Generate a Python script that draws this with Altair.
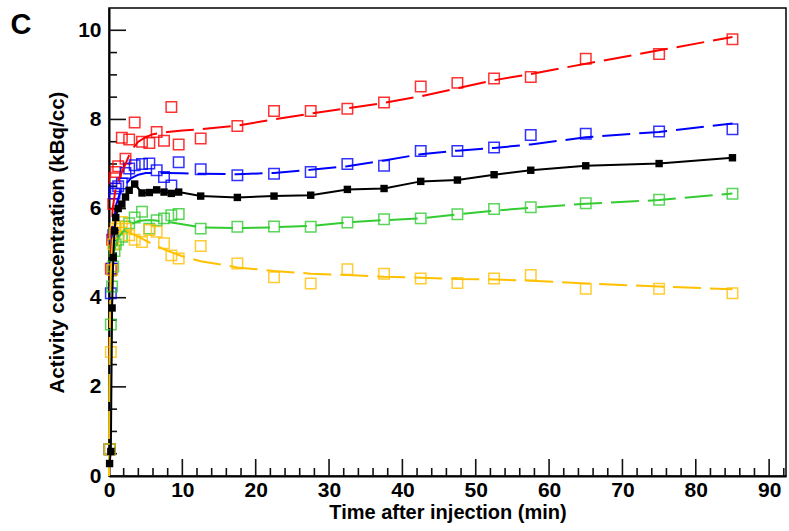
import altair as alt
import pandas as pd

# ---------------- data ----------------
times = [0.08, 0.25, 0.42, 0.58, 0.75, 0.92, 1.25, 1.75, 2.25, 2.75, 3.5, 4.5,
         5.5, 6.5, 7.5, 8.5, 9.5, 12.5, 17.5, 22.5, 27.5, 32.5, 37.5, 42.5,
         47.5, 52.5, 57.5, 65, 75, 85]

red = [0.6, 4.65, 5.3, 6.1, 6.68, 6.82, 6.95, 7.59, 7.12, 7.55, 7.93, 7.5,
       7.47, 7.72, 7.52, 8.28, 7.44, 7.57, 7.85, 8.19, 8.19, 8.24, 8.38, 8.74,
       8.82, 8.92, 8.95, 9.36, 9.47, 9.80]
blue = [0.6, 4.1, 4.65, 5.4, 6.34, 6.45, 6.5, 6.56, 6.8, 6.9, 6.97, 7.0,
        7.01, 6.86, 6.71, 6.52, 7.04, 6.88, 6.75, 6.78, 6.82, 7.00, 6.96, 7.29,
        7.29, 7.37, 7.65, 7.68, 7.73, 7.78]
black = [0.28, 0.55, 3.77, 4.9, 5.5, 5.8, 6.0, 6.1, 6.26, 6.41, 6.55, 6.35,
         6.36, 6.42, 6.37, 6.34, 6.37, 6.28, 6.25, 6.28, 6.30, 6.43, 6.45, 6.61,
         6.64, 6.76, 6.86, 6.96, 7.01, 7.14]
green = [0.6, 3.4, 4.25, 4.7, 5.05, 5.2, 5.3, 5.37, 5.6, 5.67, 5.8, 5.93,
         5.55, 5.74, 5.78, 5.85, 5.88, 5.55, 5.59, 5.60, 5.59, 5.69, 5.76, 5.78,
         5.87, 5.99, 6.03, 6.12, 6.20, 6.33]
yellow = [0.6, 2.78, 4.62, 5.2, 5.45, 5.55, 5.6, 5.7, 5.55, 5.4, 5.3, 5.25,
          5.52, 5.48, 5.22, 4.95, 4.88, 5.16, 4.77, 4.46, 4.32, 4.64, 4.54, 4.43,
          4.33, 4.43, 4.51, 4.20, 4.20, 4.10]

fit_times = [0, 0.1, 0.25, 0.5, 1, 1.5, 2, 3, 4, 5, 6, 8, 10, 12.5, 17.5, 22.5,
             27.5, 32.5, 37.5, 42.5, 47.5, 52.5, 57.5, 65, 75, 85]
red_fit = [0, 3.0, 5.0, 6.0, 6.55, 6.72, 6.9, 7.3, 7.5, 7.6, 7.67, 7.72, 7.75,
           7.78, 7.86, 8.0, 8.13, 8.25, 8.37, 8.52, 8.7, 8.88, 9.02, 9.25, 9.55, 9.85]
blue_fit = [0, 2.8, 4.5, 5.5, 6.1, 6.35, 6.5, 6.68, 6.76, 6.8, 6.8, 6.8, 6.79,
            6.78, 6.77, 6.8, 6.87, 6.95, 7.08, 7.22, 7.3, 7.36, 7.44, 7.6, 7.72, 7.91]
green_fit = [0, 2.5, 4.2, 4.9, 5.25, 5.4, 5.5, 5.65, 5.72, 5.74, 5.74, 5.7, 5.65,
             5.58, 5.56, 5.58, 5.61, 5.69, 5.74, 5.78, 5.87, 5.95, 6.02, 6.11, 6.19, 6.34]
yellow_fit = [0, 3.0, 4.6, 5.3, 5.55, 5.6, 5.55, 5.45, 5.37, 5.28, 5.2, 5.05, 4.93,
              4.82, 4.68, 4.6, 4.54, 4.51, 4.47, 4.45, 4.42, 4.41, 4.38, 4.32, 4.25, 4.19]

series_names = ["red", "blue", "green", "yellow"]
series_colors = ["#FF0000", "#0000FF", "#33CC33", "#FFC000"]

x_major = [0, 10, 20, 30, 40, 50, 60, 70, 80, 90]
x_minor = [v for v in range(2, 93, 2) if v % 10 != 0]
y_major = [0, 2, 4, 6, 8, 10]
y_minor = [v / 2 for v in range(1, 21) if v % 4 != 0]

# ---------------- tables ----------------
pts = pd.DataFrame(
    [(t, v, n) for n, vals in zip(series_names, [red, blue, green, yellow])
     for t, v in zip(times, vals)],
    columns=["t", "v", "s"])
fits = pd.DataFrame(
    [(t, v, n) for n, vals in zip(series_names, [red_fit, blue_fit, green_fit, yellow_fit])
     for t, v in zip(fit_times, vals)],
    columns=["t", "v", "s"])
blk = pd.DataFrame({"t": times, "v": black})

W, H = 677, 468
FONT = "Liberation Sans"

xs = alt.Scale(domain=[0, 92.3], nice=False, zero=False)
ys = alt.Scale(domain=[0, 10.5], nice=False)
cs = alt.Scale(domain=series_names, range=series_colors)

X = alt.X("t:Q", scale=xs, axis=alt.Axis(
    title="Time after injection (min)", values=x_major, format="d",
    ticks=False, grid=False, labelFlush=False, labelPadding=3,
    domainColor="black", domainWidth=2, titlePadding=2, titleFontSize=20))
Y = alt.Y("v:Q", scale=ys, axis=alt.Axis(
    title="Activity concentration (kBq/cc)", values=y_major, format="d",
    ticks=False, grid=False, labelPadding=8,
    domainColor="black", domainWidth=2, titlePadding=10, titleFontSize=20.5))

fit_layer = alt.Chart(fits).mark_line(strokeWidth=2, strokeDash=[28, 9]).encode(
    x=X, y=Y, color=alt.Color("s:N", scale=cs, legend=None), detail="s:N", order="t:Q")

pt_layer = alt.Chart(pts).mark_point(shape="square", filled=False, size=110,
                                     strokeWidth=1.5, opacity=0.8).encode(
    x=X, y=Y, color=alt.Color("s:N", scale=cs, legend=None))

blk_line = alt.Chart(blk).mark_line(color="black", strokeWidth=2).encode(x=X, y=Y, order="t:Q")
blk_pts = alt.Chart(blk).mark_square(color="black", size=55, opacity=1).encode(x=X, y=Y)

def xticks(vals, length):
    return alt.Chart(pd.DataFrame({"t": vals})).mark_rule(color="#111", strokeWidth=1.6).encode(
        x=alt.X("t:Q", scale=xs), y=alt.value(H), y2=alt.value(H - length))

def yticks(vals, length):
    return alt.Chart(pd.DataFrame({"v": vals})).mark_rule(color="#111", strokeWidth=1.6).encode(
        y=alt.Y("v:Q", scale=ys), x=alt.value(0), x2=alt.value(length))

label_c = alt.Chart(pd.DataFrame({"c": ["C"]})).mark_text(
    text="C", font=FONT, fontSize=29, fontWeight="bold", color="black",
    align="center", baseline="middle").encode(x=alt.value(-88), y=alt.value(17))

chart = alt.layer(
    xticks(x_minor, 8), xticks(x_major, 17), yticks(y_minor, 8), yticks(y_major, 17),
    pt_layer, fit_layer, blk_line, blk_pts, label_c
).properties(
    width=W, height=H,
    autosize=alt.AutoSizeParams(type="none"),
    padding={"left": 109, "top": 8, "right": 3, "bottom": 55},
    background="white"
).configure_view(
    stroke="black", strokeWidth=1.5
).configure_axis(
    labelFont=FONT, titleFont=FONT, labelFontSize=21,
    labelFontWeight="bold", titleFontWeight="bold",
    labelColor="black", titleColor="black"
)

chart.save("out.html", embed_options={"renderer": "svg", "actions": False})
